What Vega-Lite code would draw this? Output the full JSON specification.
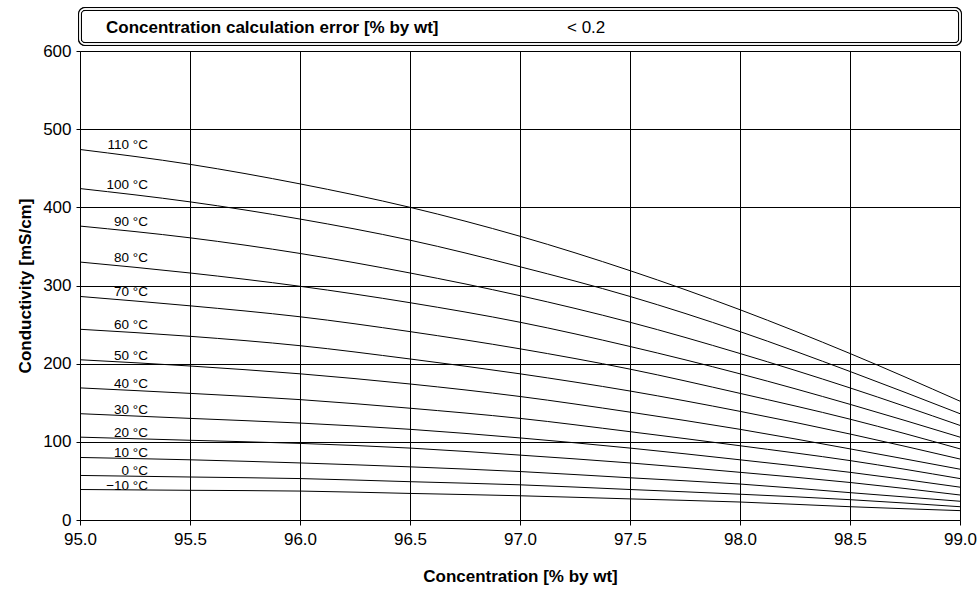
{
  "$schema": "https://vega.github.io/schema/vega-lite/v6.json",
  "padding": {"left": 16, "top": 7, "right": 2, "bottom": 2},
  "bounds": "flush",
  "spacing": 7,
  "config": {
    "font": "Liberation Sans",
    "view": {"stroke": null},
    "axis": {
      "labelFont": "Liberation Sans",
      "titleFont": "Liberation Sans",
      "labelColor": "black",
      "titleColor": "black",
      "labelFontSize": 17,
      "titleFontSize": 17,
      "titleFontWeight": "bold",
      "domainColor": "black",
      "tickColor": "black",
      "gridColor": "black",
      "gridOpacity": 1,
      "gridWidth": 1,
      "domainWidth": 1,
      "tickWidth": 1
    }
  },
  "datasets": {
    "header": [
      {"column": "label", "text": "Concentration calculation error [% by wt]"},
      {"column": "value", "text": "< 0.2"}
    ],
    "curves": [
      {"series": "110 °C", "conc": 95.0, "cond": 474}, {"series": "110 °C", "conc": 95.5, "cond": 455}, {"series": "110 °C", "conc": 96.0, "cond": 430}, {"series": "110 °C", "conc": 96.5, "cond": 400}, {"series": "110 °C", "conc": 97.0, "cond": 363}, {"series": "110 °C", "conc": 97.5, "cond": 319}, {"series": "110 °C", "conc": 98.0, "cond": 269}, {"series": "110 °C", "conc": 98.5, "cond": 213}, {"series": "110 °C", "conc": 99.0, "cond": 152},
      {"series": "100 °C", "conc": 95.0, "cond": 424}, {"series": "100 °C", "conc": 95.5, "cond": 407}, {"series": "100 °C", "conc": 96.0, "cond": 385}, {"series": "100 °C", "conc": 96.5, "cond": 358}, {"series": "100 °C", "conc": 97.0, "cond": 324}, {"series": "100 °C", "conc": 97.5, "cond": 286}, {"series": "100 °C", "conc": 98.0, "cond": 241}, {"series": "100 °C", "conc": 98.5, "cond": 190}, {"series": "100 °C", "conc": 99.0, "cond": 136},
      {"series": "90 °C", "conc": 95.0, "cond": 376}, {"series": "90 °C", "conc": 95.5, "cond": 361}, {"series": "90 °C", "conc": 96.0, "cond": 341}, {"series": "90 °C", "conc": 96.5, "cond": 316}, {"series": "90 °C", "conc": 97.0, "cond": 287}, {"series": "90 °C", "conc": 97.5, "cond": 253}, {"series": "90 °C", "conc": 98.0, "cond": 213}, {"series": "90 °C", "conc": 98.5, "cond": 169}, {"series": "90 °C", "conc": 99.0, "cond": 121},
      {"series": "80 °C", "conc": 95.0, "cond": 330}, {"series": "80 °C", "conc": 95.5, "cond": 316}, {"series": "80 °C", "conc": 96.0, "cond": 299}, {"series": "80 °C", "conc": 96.5, "cond": 278}, {"series": "80 °C", "conc": 97.0, "cond": 253}, {"series": "80 °C", "conc": 97.5, "cond": 222}, {"series": "80 °C", "conc": 98.0, "cond": 187}, {"series": "80 °C", "conc": 98.5, "cond": 148}, {"series": "80 °C", "conc": 99.0, "cond": 106},
      {"series": "70 °C", "conc": 95.0, "cond": 286}, {"series": "70 °C", "conc": 95.5, "cond": 274}, {"series": "70 °C", "conc": 96.0, "cond": 260}, {"series": "70 °C", "conc": 96.5, "cond": 241}, {"series": "70 °C", "conc": 97.0, "cond": 219}, {"series": "70 °C", "conc": 97.5, "cond": 193}, {"series": "70 °C", "conc": 98.0, "cond": 162}, {"series": "70 °C", "conc": 98.5, "cond": 129}, {"series": "70 °C", "conc": 99.0, "cond": 91},
      {"series": "60 °C", "conc": 95.0, "cond": 244}, {"series": "60 °C", "conc": 95.5, "cond": 235}, {"series": "60 °C", "conc": 96.0, "cond": 223}, {"series": "60 °C", "conc": 96.5, "cond": 206}, {"series": "60 °C", "conc": 97.0, "cond": 187}, {"series": "60 °C", "conc": 97.5, "cond": 165}, {"series": "60 °C", "conc": 98.0, "cond": 139}, {"series": "60 °C", "conc": 98.5, "cond": 110}, {"series": "60 °C", "conc": 99.0, "cond": 78},
      {"series": "50 °C", "conc": 95.0, "cond": 205}, {"series": "50 °C", "conc": 95.5, "cond": 197}, {"series": "50 °C", "conc": 96.0, "cond": 187}, {"series": "50 °C", "conc": 96.5, "cond": 174}, {"series": "50 °C", "conc": 97.0, "cond": 158}, {"series": "50 °C", "conc": 97.5, "cond": 138}, {"series": "50 °C", "conc": 98.0, "cond": 116}, {"series": "50 °C", "conc": 98.5, "cond": 91}, {"series": "50 °C", "conc": 99.0, "cond": 65},
      {"series": "40 °C", "conc": 95.0, "cond": 169}, {"series": "40 °C", "conc": 95.5, "cond": 162}, {"series": "40 °C", "conc": 96.0, "cond": 154}, {"series": "40 °C", "conc": 96.5, "cond": 143}, {"series": "40 °C", "conc": 97.0, "cond": 130}, {"series": "40 °C", "conc": 97.5, "cond": 113}, {"series": "40 °C", "conc": 98.0, "cond": 95}, {"series": "40 °C", "conc": 98.5, "cond": 76}, {"series": "40 °C", "conc": 99.0, "cond": 53},
      {"series": "30 °C", "conc": 95.0, "cond": 136}, {"series": "30 °C", "conc": 95.5, "cond": 130}, {"series": "30 °C", "conc": 96.0, "cond": 124}, {"series": "30 °C", "conc": 96.5, "cond": 116}, {"series": "30 °C", "conc": 97.0, "cond": 105}, {"series": "30 °C", "conc": 97.5, "cond": 92}, {"series": "30 °C", "conc": 98.0, "cond": 77}, {"series": "30 °C", "conc": 98.5, "cond": 61}, {"series": "30 °C", "conc": 99.0, "cond": 42},
      {"series": "20 °C", "conc": 95.0, "cond": 106}, {"series": "20 °C", "conc": 95.5, "cond": 102}, {"series": "20 °C", "conc": 96.0, "cond": 98}, {"series": "20 °C", "conc": 96.5, "cond": 92}, {"series": "20 °C", "conc": 97.0, "cond": 83}, {"series": "20 °C", "conc": 97.5, "cond": 73}, {"series": "20 °C", "conc": 98.0, "cond": 61}, {"series": "20 °C", "conc": 98.5, "cond": 48}, {"series": "20 °C", "conc": 99.0, "cond": 32},
      {"series": "10 °C", "conc": 95.0, "cond": 80}, {"series": "10 °C", "conc": 95.5, "cond": 77}, {"series": "10 °C", "conc": 96.0, "cond": 73}, {"series": "10 °C", "conc": 96.5, "cond": 68}, {"series": "10 °C", "conc": 97.0, "cond": 62}, {"series": "10 °C", "conc": 97.5, "cond": 54}, {"series": "10 °C", "conc": 98.0, "cond": 46}, {"series": "10 °C", "conc": 98.5, "cond": 35}, {"series": "10 °C", "conc": 99.0, "cond": 24},
      {"series": "0 °C", "conc": 95.0, "cond": 57}, {"series": "0 °C", "conc": 95.5, "cond": 55}, {"series": "0 °C", "conc": 96.0, "cond": 53}, {"series": "0 °C", "conc": 96.5, "cond": 49}, {"series": "0 °C", "conc": 97.0, "cond": 45}, {"series": "0 °C", "conc": 97.5, "cond": 39}, {"series": "0 °C", "conc": 98.0, "cond": 33}, {"series": "0 °C", "conc": 98.5, "cond": 26}, {"series": "0 °C", "conc": 99.0, "cond": 17},
      {"series": "−10 °C", "conc": 95.0, "cond": 39}, {"series": "−10 °C", "conc": 95.5, "cond": 38}, {"series": "−10 °C", "conc": 96.0, "cond": 37}, {"series": "−10 °C", "conc": 96.5, "cond": 34}, {"series": "−10 °C", "conc": 97.0, "cond": 31}, {"series": "−10 °C", "conc": 97.5, "cond": 27}, {"series": "−10 °C", "conc": 98.0, "cond": 23}, {"series": "−10 °C", "conc": 98.5, "cond": 17}, {"series": "−10 °C", "conc": 99.0, "cond": 12}
    ]
  },
  "vconcat": [
    {
      "width": 880,
      "height": 35,
      "data": {"name": "header"},
      "encoding": {
        "x": {"field": "column", "type": "nominal", "scale": {"type": "point", "domain": ["label", "value"], "range": [26, 487], "padding": 0}, "axis": null}
      },
      "layer": [
        {"mark": {"type": "rect", "fill": "white", "stroke": "black", "strokeWidth": 4, "cornerRadius": 5}, "encoding": {"x": null}},
        {"mark": {"type": "rect", "filled": false, "stroke": "white", "strokeWidth": 1.4, "cornerRadius": 5}, "encoding": {"x": null}},
        {
          "transform": [{"filter": "datum.column == 'label'"}],
          "mark": {"type": "text", "align": "left", "baseline": "middle", "fontSize": 17, "fontWeight": "bold", "color": "black", "dy": 1},
          "encoding": {"text": {"field": "text"}}
        },
        {
          "transform": [{"filter": "datum.column == 'value'"}],
          "mark": {"type": "text", "align": "left", "baseline": "middle", "fontSize": 17, "fontWeight": "normal", "color": "black", "dy": 1},
          "encoding": {"text": {"field": "text"}}
        }
      ]
    },
    {
      "width": 880,
      "height": 469,
      "data": {"name": "curves"},
      "layer": [
        {
          "mark": {"type": "line", "color": "black", "strokeWidth": 1, "interpolate": "monotone"},
          "encoding": {
            "x": {
              "field": "conc", "type": "quantitative",
              "scale": {"domain": [95, 99], "nice": false},
              "axis": {"values": [95, 95.5, 96, 96.5, 97, 97.5, 98, 98.5, 99], "format": ".1f", "tickSize": 5, "labelPadding": 6, "labelFlush": false, "titlePadding": 21, "grid": true},
              "title": "Concentration [% by wt]"
            },
            "y": {
              "field": "cond", "type": "quantitative",
              "scale": {"domain": [0, 600], "nice": false},
              "axis": {"values": [0, 100, 200, 300, 400, 500, 600], "tickSize": 4, "labelPadding": 5, "titlePadding": 8, "grid": true},
              "title": "Conductivity [mS/cm]"
            },
            "detail": {"field": "series", "type": "nominal"}
          }
        },
        {
          "transform": [{"filter": "datum.conc == 95"}],
          "mark": {"type": "text", "align": "right", "baseline": "alphabetic", "dx": 68, "dy": 0, "fontSize": 13.5, "color": "black"},
          "encoding": {
            "x": {"field": "conc", "type": "quantitative"},
            "y": {"field": "cond", "type": "quantitative"},
            "text": {"field": "series"}
          }
        }
      ]
    }
  ]
}
